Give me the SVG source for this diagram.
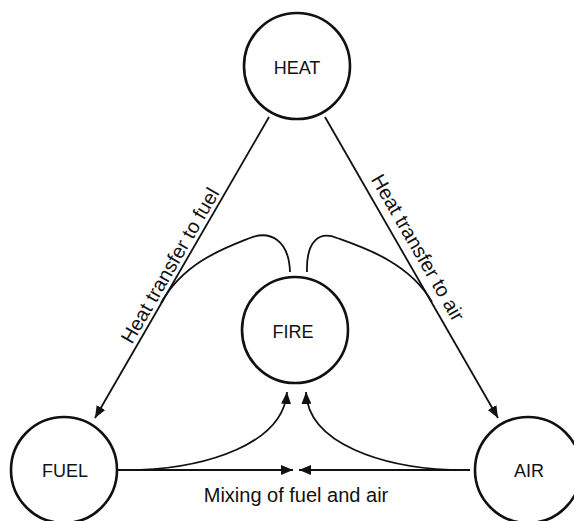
<svg xmlns="http://www.w3.org/2000/svg" width="574" height="521" viewBox="0 0 574 521">
<defs>
<style>
.node{fill:#fff;stroke:#111;stroke-width:2.6}
.lbl{font-family:"Liberation Sans",Arial,sans-serif;font-size:18px;fill:#111;text-anchor:middle}
.elbl{font-family:"Liberation Sans",Arial,sans-serif;font-size:20px;fill:#111;text-anchor:middle}
.edge{fill:none;stroke:#111;stroke-width:1.8}
</style>
<marker id="arr" viewBox="0 0 12 10" refX="12" refY="5" markerWidth="12" markerHeight="10" markerUnits="userSpaceOnUse" orient="auto">
<path d="M0,0 L12,5 L0,10 Z" fill="#111"/>
</marker>
</defs>
<rect width="574" height="521" fill="#fff"/>
<g id="connectors">
<path class="edge" d="M269,117 L95,418" marker-end="url(#arr)"/>
<path class="edge" d="M325,117 L498,418" marker-end="url(#arr)"/>
<path class="edge" d="M290,272 C289,240 270,230 250,238 C225,248 184,262 161,303"/>
<path class="edge" d="M307,272 C306,240 320,231 337,238 C362,247 409,262 432,302"/>
<path class="edge" d="M118,470 L293,470" marker-end="url(#arr)"/>
<path class="edge" d="M470,470 L299,470" marker-end="url(#arr)"/>
<path class="edge" d="M140,470 C205,467 283,445 287,392" marker-end="url(#arr)"/>
<path class="edge" d="M450,470 C385,467 308,445 306,392" marker-end="url(#arr)"/>
<text class="elbl" transform="translate(176,269) rotate(-60)">Heat transfer to fuel</text>
<text class="elbl" transform="translate(412,251) rotate(60)">Heat transfer to air</text>
<text class="elbl" x="296" y="502">Mixing of fuel and air</text>
</g>
<g id="heat"><circle class="node" cx="297" cy="66" r="53"/><text class="lbl" x="297" y="74">HEAT</text></g>
<g id="fire"><circle class="node" cx="295" cy="330" r="53"/><text class="lbl" x="293" y="338">FIRE</text></g>
<g id="fuel"><circle class="node" cx="64" cy="470" r="53"/><text class="lbl" x="65" y="477">FUEL</text></g>
<g id="air"><circle class="node" cx="528" cy="470" r="53"/><text class="lbl" x="529" y="477">AIR</text></g>
</svg>
